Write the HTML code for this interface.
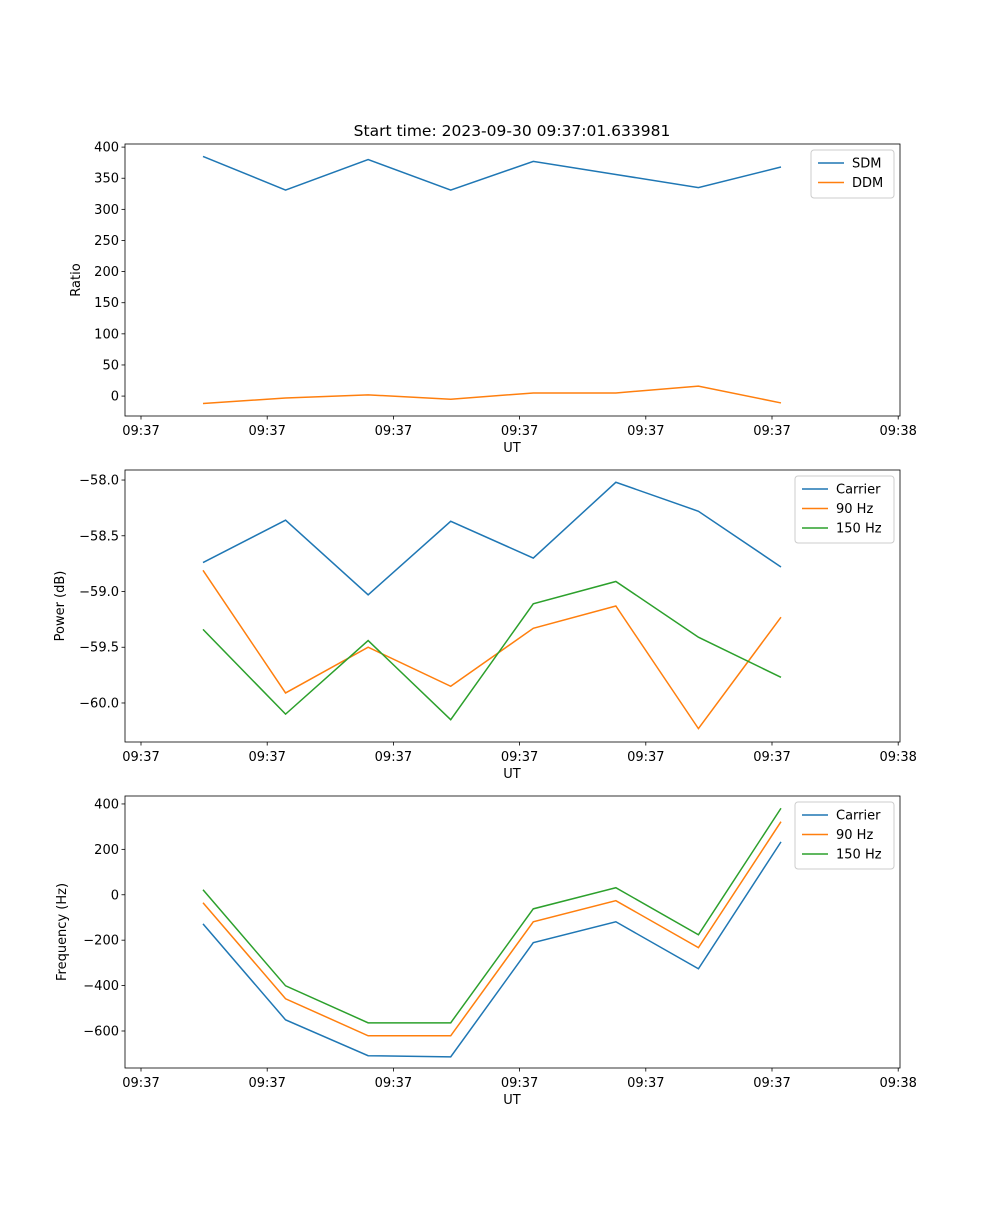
<!DOCTYPE html>
<html><head><meta charset="utf-8"><style>
body{margin:0;background:#fff;font-family:"Liberation Sans","DejaVu Sans",sans-serif}
text{font-family:"DejaVu Sans","Liberation Sans",sans-serif;fill:#000}
</style></head><body>
<svg id="fig" width="1000" height="1200" xmlns="http://www.w3.org/2000/svg">
<text x="512" y="136" font-size="15.5" text-anchor="middle">Start time: 2023-09-30 09:37:01.633981</text>
</svg>
<script>
const xTickLabels=["09:37","09:37","09:37","09:37","09:37","09:37","09:38"];
const sdm=[385,331,380,331,377,356,335,368];
const ddm=[-12,-3,2,-5,5,5,16,-11];
const powCarrier=[-58.74,-58.36,-59.03,-58.37,-58.70,-58.02,-58.28,-58.78];
const pow90=[-58.81,-59.91,-59.50,-59.85,-59.33,-59.13,-60.23,-59.23];
const pow150=[-59.34,-60.10,-59.44,-60.15,-59.11,-58.91,-59.41,-59.77];
const freqCarrier=[-128,-551,-709,-714,-211,-119,-326,233];
const freq90=[-35,-458,-621,-621,-119,-26,-233,322];
const freq150=[22,-401,-564,-564,-62,31,-176,381];
const sampleIdx=[1,2,3,4,5,6,7,8];

const svg=document.getElementById('fig');
const NS="http://www.w3.org/2000/svg";
const colors=["#1f77b4","#ff7f0e","#2ca02c"];
const L=125,R=900;
// x domain: sample index; tick 0 at 141, spacing 126.3; point1 at 203, spacing 82.6
function xs(i){return 203+(i-1)*82.57;}
function mk(tag,attrs,parent){const e=document.createElementNS(NS,tag);for(const k in attrs)e.setAttribute(k,attrs[k]);(parent||svg).appendChild(e);return e;}

function panel(name,top,ymin,ymax,yticks,fmt,ylabel,series,labels,legW){
  const bot=top+272;
  const g=mk('g',{});
  
  
  const ys=v=>bot-(v-ymin)/(ymax-ymin)*272;
  series.forEach((s,k)=>{
    const p=mk('polyline',{points:s.map((v,i)=>xs(sampleIdx[i])+','+ys(v)).join(' '),fill:'none',stroke:colors[k],'stroke-width':1.5},g);
    
    
  });
  const fr=mk('rect',{x:L,y:top,width:R-L,height:272,fill:'none',stroke:'#000','stroke-width':0.8},g);
  
  
  yticks.forEach(v=>{const y=ys(v);mk('line',{x1:L-3.5,x2:L,y1:y,y2:y,stroke:'#000','stroke-width':0.8},g);
    const t=mk('text',{x:L-6,y:y+4.5,'font-size':13,'text-anchor':'end'},g);t.textContent=fmt(v);
    
    });
  xTickLabels.forEach((lab,i)=>{const x=141+i*126.2;mk('line',{x1:x,x2:x,y1:bot,y2:bot+3.5,stroke:'#000','stroke-width':0.8},g);
    const t=mk('text',{x:x,y:bot+19,'font-size':13,'text-anchor':'middle'},g);t.textContent=lab;
    
    });
  const xl=mk('text',{x:512,y:bot+36,'font-size':13,'text-anchor':'middle'},g);xl.textContent='UT';
  
  
  const cy=(top+bot)/2;
  const yl=mk('text',{x:0,y:0,'font-size':13,'text-anchor':'middle',transform:`translate(${ylabel[1]},${cy}) rotate(-90)`},g);yl.textContent=ylabel[0];
  
  
  const lx=R-6-legW,ly=top+6,lh=10+labels.length*19;
  const lg=mk('g',{},g);
  
  
  mk('rect',{x:lx,y:ly,width:legW,height:lh,rx:3,fill:'#fff','fill-opacity':0.8,stroke:'#ccc'},lg);
  labels.forEach((lab,k)=>{const y=ly+13+k*19.5;
    mk('line',{x1:lx+7,x2:lx+33,y1:y,y2:y,stroke:colors[k],'stroke-width':1.5},lg);
    const t=mk('text',{x:lx+41,y:y+4.5,'font-size':13},lg);t.textContent=lab;
    
    });
}
panel('ratio-panel',144,-32,405,[0,50,100,150,200,250,300,350,400],v=>String(v),['Ratio',80],[sdm,ddm],['SDM','DDM'],83);
panel('power-panel',470,-60.35,-57.91,[-60,-59.5,-59,-58.5,-58],v=>(v<0?'\u2212':'')+Math.abs(v).toFixed(1),['Power (dB)',64],[powCarrier,pow90,pow150],['Carrier','90 Hz','150 Hz'],99);
panel('frequency-panel',796,-763,435,[-600,-400,-200,0,200,400],v=>(v<0?'\u2212':'')+Math.abs(v),['Frequency (Hz)',66],[freqCarrier,freq90,freq150],['Carrier','90 Hz','150 Hz'],99);
</script>
</body></html>
